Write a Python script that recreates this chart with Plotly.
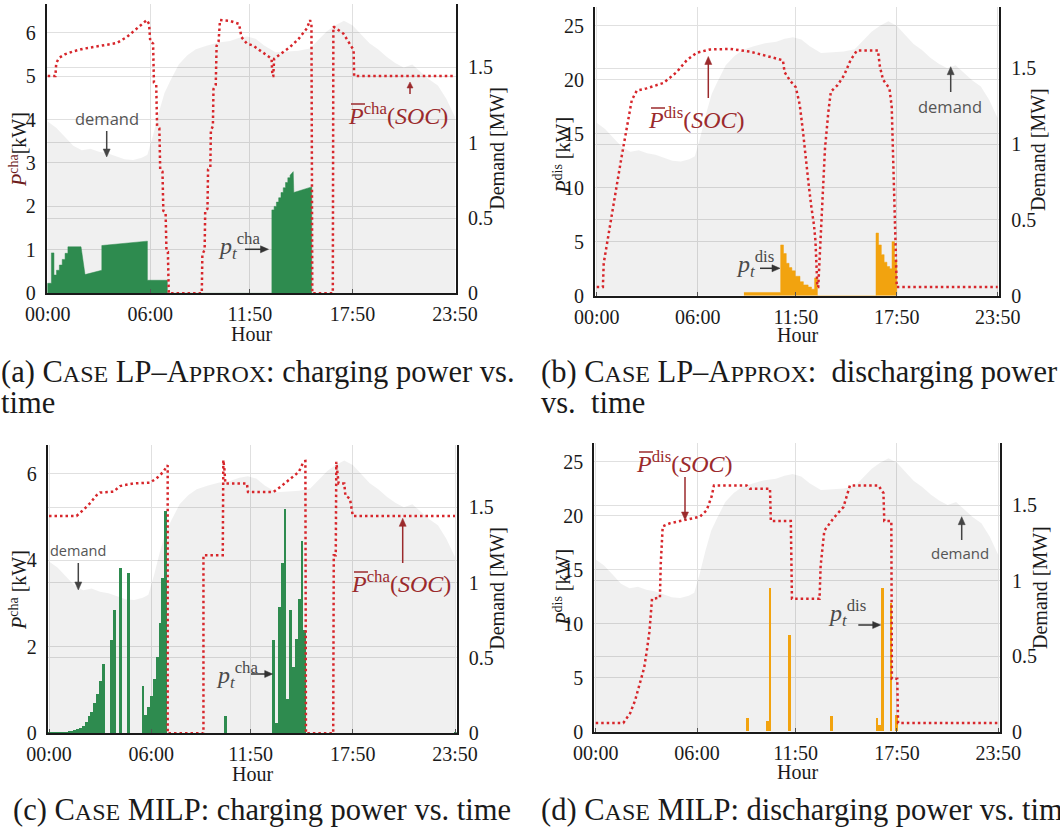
import math
import plotly.graph_objects as go

W, H = 1060, 827
SERIF = "Liberation Serif"
SANS = "Open Sans"

# ---------------- data ----------------
TICK_T = [0, 360, 710, 1070, 1430]
TICK_LBL = ["00:00", "06:00", "11:50", "17:50", "23:50"]
DEM_TICKS = [0, 0.5, 1, 1.5]
DEM_LBL = ["0", "0.5", "1", "1.5"]

# demand [MW] (minutes after midnight)
dem_t = [0, 30, 60, 90, 120, 150, 180, 210, 240, 270, 300, 330, 350, 370, 390, 410, 430, 460, 490, 520,
         560, 600, 640, 670, 700, 730, 760, 800, 840, 880, 920, 950, 980, 1010, 1040, 1070, 1100, 1130,
         1160, 1190, 1220, 1250, 1280, 1310, 1340, 1370, 1400, 1430]
dem_v = [1.14, 1.10, 1.04, 0.98, 0.95, 0.96, 0.94, 0.93, 0.91, 0.89, 0.885, 0.90, 0.92, 1.05, 1.20, 1.33,
         1.41, 1.52, 1.58, 1.62, 1.645, 1.665, 1.675, 1.695, 1.705, 1.69, 1.645, 1.60, 1.605, 1.61, 1.625,
         1.68, 1.74, 1.78, 1.81, 1.78, 1.72, 1.66, 1.62, 1.57, 1.53, 1.50, 1.52, 1.47, 1.42, 1.38, 1.29, 1.17]

# (a) LP-Approx charging
socA_t = [0, 27, 30, 40, 60, 90, 125, 184, 242, 278, 313, 348, 356, 360, 370, 373, 381, 384, 392, 395,
          403, 406, 414, 417, 422, 425, 541, 543, 551, 553, 561, 563, 571, 573, 580, 582, 590, 593, 600, 605,
          640, 672, 680, 699, 722, 769, 786, 789, 792, 795, 851, 880, 910, 921, 926, 929, 1001, 1003, 1038, 1074,
          1076, 1430]
socA_v = [5.0, 5.0, 5.3, 5.42, 5.5, 5.57, 5.63, 5.7, 5.76, 5.9, 6.1, 6.29, 6.2, 5.8, 5.75, 4.85, 4.8, 3.85, 3.8, 2.85,
          2.8, 1.9, 1.85, 0.97, 0.95, 0, 0, 0.9, 1.0, 1.9, 1.95, 2.85, 2.9, 3.75, 3.85, 4.7, 4.8, 5.7, 5.8, 6.29,
          6.27, 6.2, 5.9, 5.75, 5.7, 5.48, 5.4, 5.0, 5.0, 5.4, 5.67, 5.85, 6.1, 6.29, 6.2, 0, 0, 6.14, 5.98, 5.6,
          5.0, 5.0]
chaA_t = [0, 0, 13, 13, 22, 22, 31, 31, 41, 41, 51, 51, 61, 61, 71, 71, 117, 131, 190, 190, 350, 350, 420, 420,
          787, 787, 795, 795, 803, 803, 811, 811, 819, 819, 827, 827, 835, 835, 843, 843, 851, 851, 862, 864,
          927, 927]
chaA_v = [0, 0.23, 0.23, 0.93, 0.93, 0.42, 0.42, 0.53, 0.53, 0.65, 0.65, 0.78, 0.78, 0.92, 0.92, 1.07, 1.07, 0.43,
          0.53, 1.10, 1.20, 0.30, 0.30, 0,
          0, 1.92, 1.92, 2.0, 2.0, 2.1, 2.1, 2.2, 2.2, 2.32, 2.32, 2.43, 2.43, 2.55, 2.55, 2.66, 2.66, 2.72, 2.8,
          2.32, 2.45, 0]

# (b) LP-Approx discharging
socB_t = [0, 22, 25, 42, 59, 74, 89, 107, 125, 143, 178, 238, 285, 321, 357, 404, 475, 547, 618, 664,
          670, 690, 710, 724, 736, 745, 755, 765, 775, 780, 787, 790, 798, 806, 814, 826, 835, 859, 882, 905,
          928, 1003, 1010, 1021, 1044, 1052, 1062, 1070, 1430]
socB_v = [0.8, 0.8, 3.0, 5.5, 8.2, 10.6, 12.9, 15.6, 18.1, 19.0, 19.2, 19.7, 20.7, 21.8, 22.5, 22.8, 22.85, 22.6,
          22.1, 21.8, 20.7, 19.9, 19.3, 17.7, 15.1, 12.7, 10.5, 8.3, 6.5, 5.1, 0.8, 0.8, 5.3, 9.6, 13.6, 17.0,
          18.9, 19.5, 20.4, 21.8, 22.7, 22.7, 21.2, 20.0, 19.2, 17.5, 8.1, 0.8, 0.8]
disB_t = [525, 656, 666, 676, 686, 696, 708, 725, 737, 754, 766, 777, 787, 996, 1005, 1015, 1025, 1035, 1045,
          1053, 1062, 1070]
disB_v = [0.3, 4.7, 3.9, 3.0, 2.6, 2.3, 1.8, 1.3, 1.0, 0.8, 0.6, 1.65, 0, 5.8, 4.7, 3.8, 3.1, 2.7, 2.5, 5.0, 3.3, 0]

# (c) MILP charging
socC_t = [0, 97, 121, 144, 168, 180, 227, 250, 297, 356, 379, 403, 414, 418, 418, 544, 544, 612, 614, 618,
          621, 697, 701, 790, 815, 846, 880, 897, 903, 905, 1001, 1003, 1010, 1012, 1016, 1020, 1040, 1044,
          1060, 1070, 1430]
socC_v = [5.03, 5.03, 5.17, 5.32, 5.51, 5.57, 5.59, 5.72, 5.78, 5.8, 5.9, 6.05, 6.17, 6.2, 0, 0, 4.12, 4.12,
          6.32, 6.1, 5.78, 5.78, 5.58, 5.58, 5.7, 5.87, 6.05, 6.29, 6.3, 0, 0, 4.12, 4.12, 6.28, 6.0, 5.78,
          5.78, 5.5, 5.43, 5.03, 5.03]
chaC_t = [0, 10, 20, 30, 40, 50, 60, 70, 80, 90, 100, 110, 120, 130, 140, 150, 160, 170, 180, 190,
          220, 230, 250, 280, 330, 340, 350, 360, 370, 380, 390, 400, 410, 620,
          790, 800, 810, 820, 830, 840, 850, 860, 870, 880, 890, 900, 1430]
chaC_v = [0.01, 0.01, 0.01, 0.02, 0.02, 0.03, 0.04, 0.05, 0.06, 0.08, 0.1, 0.13, 0.17, 0.25, 0.39, 0.5, 0.69,
          0.91, 1.2, 1.6, 2.15, 2.85, 3.82, 3.7, 1.1, 0.42, 0.62, 0.87, 1.25, 1.77, 2.55, 3.6, 5.15, 0.4,
          2.16, 0.23, 2.93, 3.94, 5.2, 0.8, 2.85, 1.54, 2.18, 3.1, 4.44, 2.4, 0.03]

# (d) MILP discharging
socD_t = [0, 98, 122, 140, 157, 172, 181, 191, 200, 228, 231, 238, 264, 323, 370, 394, 412, 420, 536, 548,
          619, 622, 693, 697, 795, 799, 812, 844, 880, 903, 1004, 1022, 1025, 1050, 1052, 1071, 1074, 1430]
socD_v = [0.8, 0.8, 1.7, 2.9, 4.5, 5.9, 7.4, 9.3, 12.3, 12.4, 15.5, 19.0, 19.3, 19.6, 19.9, 20.5, 21.8, 22.8,
          22.8, 22.5, 22.5, 19.5, 19.5, 12.3, 12.3, 15.4, 18.6, 19.75, 20.8, 22.8, 22.8, 22.1, 19.5, 19.5, 4.9,
          4.9, 0.8, 0.8]
disD_t = [540, 610, 620, 690, 840, 1000, 1010, 1020, 1050, 1070]
disD_v = [1.23, 1.0, 13.3, 8.9, 1.4, 1.23, 0.62, 13.3, 11.9, 1.55]

# ---------------- styling ----------------
RED = "#d7262b"
DARKRED = "#9b2a2c"
GREEN = "#2e8b4f"
ORANGE = "#f2a30f"
DEMFILL = "rgba(0,0,0,0.06)"
GRID = "#e0e0e0"
AX = "#1a1a1a"
GREY = "#4a4a4a"
DOT = dict(color=RED, width=2.5, dash="2.5px,3px")

# panel geometry in page pixels: (left, right), (top, bottom)
panels = [
    dict(xd=(46.7, 456.0), yd=(4.0, 293.3), xr=(-3.5, 1433.5), pr=6.66, dr=1.921, pt=[0, 1, 2, 3, 4, 5, 6]),
    dict(xd=(595.0, 999.3), yd=(6.7, 295.7), xr=(-6.1, 1435.7), pr=26.76, dr=1.906, pt=[0, 5, 10, 15, 20, 25]),
    dict(xd=(47.7, 456.7), yd=(445.0, 733.3), xr=(-4.6, 1436.0), pr=6.67, dr=1.913, pt=[0, 2, 4, 6]),
    dict(xd=(594.3, 1000.0), yd=(443.3, 731.7), xr=(-5.0, 1436.0), pr=26.7, dr=1.909, pt=[0, 5, 10, 15, 20, 25]),
]

fig = go.Figure()
layout = {}
tickfont = dict(family=SERIF, size=20, color=AX)

for i, p in enumerate(panels, start=1):
    xs = "" if i == 1 else str(i)
    xref, yd_ref = "x" + xs, "y" + xs
    dom_x = [p["xd"][0] / W, p["xd"][1] / W]
    dom_y = [1 - p["yd"][1] / H, 1 - p["yd"][0] / H]
    layout["xaxis" + xs] = dict(domain=dom_x, range=list(p["xr"]), anchor=yd_ref, tickmode="array",
                                tickvals=TICK_T, ticktext=TICK_LBL, showgrid=True, gridcolor=GRID,
                                showline=True, linecolor=AX, linewidth=2, ticks="inside", ticklen=4,
                                tickcolor="#555", tickfont=tickfont, zeroline=False, ticklabelstandoff=2,
                                automargin=False)
    layout["yaxis" + xs] = dict(domain=dom_y, range=[0, p["dr"]], anchor=xref, side="right",
                                tickmode="array", tickvals=DEM_TICKS, ticktext=DEM_LBL, showgrid=True,
                                gridcolor=GRID, showline=True, linecolor=AX, linewidth=2, ticks="",
                                tickfont=tickfont, zeroline=False, ticklabelstandoff=6, automargin=False)
    layout["yaxis" + str(i + 4)] = dict(range=[0, p["pr"]], anchor=xref, overlaying=yd_ref, side="left",
                                        tickmode="array", tickvals=p["pt"], showgrid=True, gridcolor=GRID,
                                        showline=True, linecolor=AX, linewidth=2, ticks="",
                                        tickfont=tickfont, zeroline=False, ticklabelstandoff=5,
                                        automargin=False)
    # demand background
    fig.add_trace(go.Scatter(x=dem_t, y=dem_v, xaxis=xref, yaxis=yd_ref, mode="lines", fill="tozeroy",
                             fillcolor=DEMFILL, line=dict(width=0), hoverinfo="skip"))

# power traces
fig.add_trace(go.Scatter(x=chaA_t, y=chaA_v, xaxis="x", yaxis="y5", mode="lines", fill="tozeroy",
                         fillcolor=GREEN, line=dict(color=GREEN, width=0.5)))
fig.add_trace(go.Scatter(x=socA_t, y=socA_v, xaxis="x", yaxis="y5", mode="lines", line=DOT))

fig.add_trace(go.Scatter(x=disB_t, y=disB_v, xaxis="x2", yaxis="y6", mode="lines", fill="tozeroy",
                         fillcolor=ORANGE, line=dict(color=ORANGE, width=0.5, shape="hv")))
fig.add_trace(go.Scatter(x=socB_t, y=socB_v, xaxis="x2", yaxis="y6", mode="lines", line=DOT))

fig.add_trace(go.Bar(x=chaC_t, y=chaC_v, width=10, xaxis="x3", yaxis="y7",
                     marker=dict(color=GREEN, line=dict(width=0))))
fig.add_trace(go.Scatter(x=socC_t, y=socC_v, xaxis="x3", yaxis="y7", mode="lines", line=DOT))

fig.add_trace(go.Bar(x=disD_t, y=disD_v, width=10, xaxis="x4", yaxis="y8",
                     marker=dict(color=ORANGE, line=dict(width=0))))
fig.add_trace(go.Scatter(x=socD_t, y=socD_v, xaxis="x4", yaxis="y8", mode="lines", line=DOT))


# ---------------- annotations ----------------
def px(x):
    return x / W


def py(y):
    return 1 - y / H


def txt(x, y, s, size, color=AX, family=SERIF, xa="center", ya="middle", angle=0):
    return dict(x=px(x), y=py(y), xref="paper", yref="paper", text=s, showarrow=False,
                font=dict(family=family, size=size, color=color), xanchor=xa, yanchor=ya, textangle=angle)


ann = []
shapes = []


def arrow(x0, y0, x1, y1, color, hl=8.0, hw=3.5, lw=1.5):
    dx, dy = x1 - x0, y1 - y0
    L = math.hypot(dx, dy)
    ux, uy = dx / L, dy / L
    bx, by = x1 - ux * hl, y1 - uy * hl
    shapes.append(dict(type="line", xref="paper", yref="paper", x0=px(x0), y0=py(y0), x1=px(bx + ux),
                       y1=py(by + uy), line=dict(color=color, width=lw)))
    pts = [(x1, y1), (bx - uy * hw, by + ux * hw), (bx + uy * hw, by - ux * hw)]
    path = "M " + " L ".join(f"{px(a):.5f},{py(b):.5f}" for a, b in pts) + " Z"
    shapes.append(dict(type="path", xref="paper", yref="paper", path=path, fillcolor=color,
                       line=dict(color=color, width=0.5)))


# axis titles
ann.append(txt(18, 150, "<span style='color:#6e1d1d'><i>P</i><sup>cha</sup></span>[kW]", 20, angle=-90))
ann.append(txt(561.7, 155, "<i>P</i><sup>dis</sup> [kW]", 20, angle=-90))
ann.append(txt(18, 590, "<i>P</i><sup>cha</sup> [kW]", 20, angle=-90))
ann.append(txt(561.7, 587, "<i>P</i><sup>dis</sup> [kW]", 20, angle=-90))
for (x, y) in [(496.7, 148), (1038, 150), (496.7, 588), (1040, 588)]:
    ann.append(txt(x, y, "Demand [MW]", 20, angle=-90))
for (x, y) in [(251.5, 333.5), (797, 335), (252.5, 773.5), (797.5, 772)]:
    ann.append(txt(x, y, "Hour", 20))

# demand labels
for (x, y, s, x0, y0, x1, y1) in [(106.7, 118.3, 16.5, 106.7, 131, 106.7, 157),
                                  (950, 106, 16.5, 950.7, 92, 950.7, 66.7),
                                  (78, 550, 14.5, 78.3, 563, 78.3, 590),
                                  (960, 553, 15, 961.7, 540, 961.7, 516.7)]:
    ann.append(txt(x, y, "demand", s, color="#555555", family=SANS))
    arrow(x0, y0, x1, y1, "#444444")


# p_t labels
def plabel(x0, y0, sup):
    ann.append(txt(x0, y0, "<i>p</i><sub><i>t</i></sub><sup>" + sup + "</sup>", 24, color=GREY, xa="left"))


plabel(216, 246, "cha"); arrow(245, 249.3, 268.5, 249.3, "#333333")
plabel(734, 264, "dis"); arrow(760, 268.3, 780, 268.3, "#333333")
plabel(214, 675, "cha"); arrow(251, 674, 272.7, 674, "#333333")
plabel(825.7, 613, "dis"); arrow(858.3, 625, 880.7, 625, "#333333")


# Pbar(SOC) labels
def Plabel(x0, y0, sup):
    ann.append(txt(x0, y0, "<i>P</i><sup>" + sup + "</sup>(<i>SOC</i>)", 24, color=DARKRED, xa="left"))
    shapes.append(dict(type="line", xref="paper", yref="paper",
                       x0=px(x0 + 5), x1=px(x0 + 19), y0=py(y0 - 10), y1=py(y0 - 10),
                       line=dict(color=DARKRED, width=1.5)))


Plabel(346, 114, "cha"); arrow(410, 94, 410, 82, DARKRED, hl=6, hw=3)
Plabel(646, 118, "dis"); arrow(708.3, 98, 708.3, 56.5, DARKRED)
Plabel(349, 582, "cha"); arrow(402.7, 563, 402.7, 518.3, DARKRED)
Plabel(634, 462, "dis"); arrow(685, 477, 685, 520, DARKRED)

# captions (small caps emulated)
SC = "<span style='font-size:24px'>{}</span>"
capA1 = "(a) C" + SC.format("ASE") + " LP–A" + SC.format("PPROX") + ": charging power vs."
capB1 = "(b) C" + SC.format("ASE") + " LP–A" + SC.format("PPROX") + ":  discharging power"
capC = "(c) C" + SC.format("ASE") + " MILP: charging power vs. time"
capD = "(d) C" + SC.format("ASE") + " MILP: discharging power vs. time"
CAP = 30.5
ann.append(txt(-1, 372, capA1, CAP, xa="left"))
ann.append(txt(-1, 403, "time", CAP, xa="left"))
ann.append(txt(539, 372, capB1, CAP, xa="left"))
ann.append(txt(539, 403, "vs.  time", CAP, xa="left"))
ann.append(txt(11, 810, capC, CAP, xa="left"))
ann.append(txt(539, 810, capD, CAP, xa="left"))

layout.update(dict(template="none", width=W, height=H, margin=dict(l=0, r=0, t=0, b=0),
                   paper_bgcolor="white", plot_bgcolor="white", showlegend=False, bargap=0,
                   annotations=ann, shapes=shapes))
fig.update_layout(**layout)
fig.write_html("out.html")
